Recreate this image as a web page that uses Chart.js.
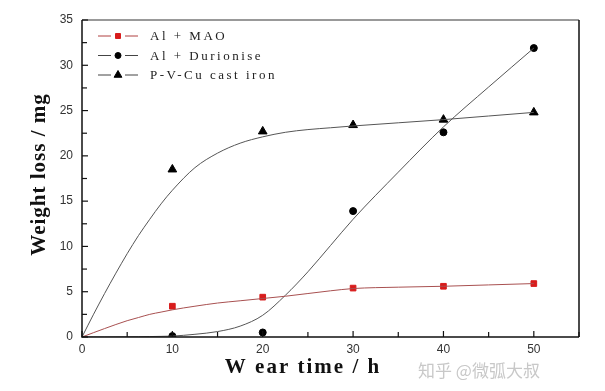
<!DOCTYPE html>
<html>
<head>
<meta charset="utf-8">
<script src="https://cdn.jsdelivr.net/npm/chart.js@4/dist/chart.umd.min.js"></script>
<style>
  html, body { margin: 0; padding: 0; background: #fff; }
  #wrap { width: 605px; height: 391px; }
</style>
</head>
<body>
<div id="wrap"><canvas id="chart1" width="605" height="391"></canvas></div>
<script>
// measured points
const hours = [10, 20, 30, 40, 50];
const maoLoss = [3.4, 4.4, 5.4, 5.6, 5.9];
const durioniseLoss = [0.1, 0.5, 13.9, 22.6, 31.9];
const castIronLoss = [18.5, 22.7, 23.4, 24.0, 24.8];

// fitted curves
const fitHours = [0, 1.25, 2.5, 3.75, 5, 6.25, 7.5, 8.75, 10, 12.5, 15, 17.5, 20, 22.5, 25, 27.5, 30, 35, 40, 45, 50];
const maoFit = [0, 0.47, 0.93, 1.38, 1.8, 2.15, 2.5, 2.75, 3.0, 3.4, 3.75, 4.0, 4.25, 4.5, 4.8, 5.1, 5.35, 5.5, 5.6, 5.75, 5.9];
const durioniseFit = [0, 0, 0, 0.01, 0.02, 0.03, 0.05, 0.07, 0.1, 0.3, 0.6, 1.2, 2.4, 4.6, 7.2, 10.1, 13.0, 18.2, 23.2, 27.6, 31.9];
const castIronFit = [0, 2.45, 4.8, 7.05, 9.2, 11.2, 13.0, 14.7, 16.2, 18.7, 20.3, 21.4, 22.1, 22.6, 22.9, 23.1, 23.3, 23.65, 24.0, 24.4, 24.8];

const seriesNames = ['Al + MAO', 'Al + Durionise', 'P-V-Cu cast iron'];
const yTicks = [0, 5, 10, 15, 20, 25, 30, 35];
const xTicks = [0, 10, 20, 30, 40, 50];

const RED = '#d81c1c';
const serif = '"Liberation Serif", "Times New Roman", serif';

function pts(xs, ys) {
    return xs.map((x, i) => ({ x: x, y: ys[i] }));
}

function fitSet(ys, color) {
    return {
        data: pts(fitHours, ys),
        showLine: true,
        borderColor: color,
        borderWidth: 1,
        pointRadius: 0,
        cubicInterpolationMode: 'monotone',
        fill: false
    };
}

function markSet(ys, style, color, r) {
    return {
        data: pts(hours, ys),
        showLine: false,
        pointStyle: style,
        pointRadius: r,
        backgroundColor: color,
        borderColor: color,
        borderWidth: 1
    };
}

const markers = [
    { style: 'rect', color: RED, r: 4 },
    { style: 'circle', color: '#000', r: 3.5 },
    { style: 'triangle', color: '#000', r: 5 }
];

// frame, inward ticks, legend, axis titles and watermark
const decor = {
    id: 'decor',
    afterDraw(chart) {
        const ctx = chart.ctx;
        const a = chart.chartArea;
        const xs = chart.scales.x, ys = chart.scales.y;
        ctx.save();

        // frame
        ctx.lineWidth = 1.5;
        ctx.strokeStyle = '#777';
        ctx.beginPath(); ctx.moveTo(a.left, a.top); ctx.lineTo(a.right, a.top); ctx.stroke();
        ctx.strokeStyle = '#111';
        ctx.beginPath();
        ctx.moveTo(a.right, a.top); ctx.lineTo(a.right, a.bottom);
        ctx.moveTo(a.left, a.top); ctx.lineTo(a.left, a.bottom); ctx.lineTo(a.right, a.bottom);
        ctx.stroke();

        // inward ticks
        ctx.lineWidth = 1.2;
        for (let v = 0; v <= 55; v += 5) {
            const px = xs.getPixelForValue(v);
            const len = v % 10 === 0 ? 6 : 5;
            ctx.beginPath(); ctx.moveTo(px, a.bottom); ctx.lineTo(px, a.bottom - len); ctx.stroke();
        }
        for (let v = 0; v <= 35; v += 2.5) {
            const py = ys.getPixelForValue(v);
            const len = v % 5 === 0 ? 6 : 5;
            ctx.beginPath(); ctx.moveTo(a.left, py); ctx.lineTo(a.left + len, py); ctx.stroke();
        }

        // legend
        ctx.font = '13px ' + serif;
        ctx.letterSpacing = '2.5px';
        ctx.textBaseline = 'middle';
        ctx.textAlign = 'left';
        seriesNames.forEach((name, i) => {
            const y = 36 + i * 19.5;
            const m = markers[i];
            ctx.strokeStyle = i === 0 ? '#b04040' : '#444';
            ctx.lineWidth = 1;
            ctx.beginPath();
            ctx.moveTo(98, y); ctx.lineTo(111, y);
            ctx.moveTo(125, y); ctx.lineTo(138, y);
            ctx.stroke();
            ctx.fillStyle = m.color;
            ctx.strokeStyle = m.color;
            Chart.helpers.drawPoint(ctx, {
                pointStyle: m.style, radius: m.r - 0.5, rotation: 0, borderWidth: 1
            }, 118, y);
            ctx.fillStyle = '#222';
            ctx.fillText(name, 150, y + 1);
        });

        // axis titles
        ctx.fillStyle = '#111';
        ctx.font = 'bold 21px ' + serif;
        ctx.letterSpacing = '2px';
        ctx.textAlign = 'center';
        ctx.fillText('W ear time / h', 303, 368);
        ctx.save();
        ctx.letterSpacing = '1px';
        ctx.translate(40, (a.top + a.bottom) / 2 - 4);
        ctx.rotate(-Math.PI / 2);
        ctx.fillText('Weight loss / mg', 0, 0);
        ctx.restore();

        // watermark
        ctx.letterSpacing = '0px';
        ctx.font = '17px "Noto Sans CJK SC", sans-serif';
        ctx.fillStyle = '#c8c8c8';
        ctx.textAlign = 'left';
        ctx.fillText('知乎 @微弧大叔', 418, 371);

        ctx.restore();
    }
};

const data1 = {
    datasets: [
        fitSet(maoFit, '#a85050'),
        fitSet(durioniseFit, '#555'),
        fitSet(castIronFit, '#555'),
        markSet(maoLoss, 'rect', RED, 4),
        markSet(durioniseLoss, 'circle', '#000', 3.5),
        markSet(castIronLoss, 'triangle', '#000', 5)
    ]
};

const tickFont = { family: '"Liberation Sans", Arial, sans-serif', size: 12 };

const config1 = {
    type: 'scatter',
    data: data1,
    plugins: [decor],
    options: {
        responsive: false,
        animation: false,
        layout: { padding: { top: 20, right: 26, left: 0, bottom: 0 } },
        plugins: {
            legend: { display: false },
            tooltip: { enabled: false }
        },
        scales: {
            x: {
                type: 'linear',
                min: 0,
                max: 55,
                grid: { display: false, drawTicks: false },
                border: { display: false },
                afterFit(scale) { scale.height = 54; },
                afterBuildTicks(scale) {
                    scale.ticks = xTicks.map(v => ({ value: v }));
                },
                ticks: { color: '#333', font: tickFont, padding: 5, maxRotation: 0 }
            },
            y: {
                type: 'linear',
                min: 0,
                max: 35,
                grid: { display: false, drawTicks: false },
                border: { display: false },
                afterFit(scale) { scale.width = 82; },
                afterBuildTicks(scale) {
                    scale.ticks = yTicks.map(v => ({ value: v }));
                },
                ticks: { color: '#333', font: tickFont, padding: 9 }
            }
        }
    }
};

new Chart(document.getElementById('chart1').getContext('2d'), config1);
</script>
</body>
</html>
